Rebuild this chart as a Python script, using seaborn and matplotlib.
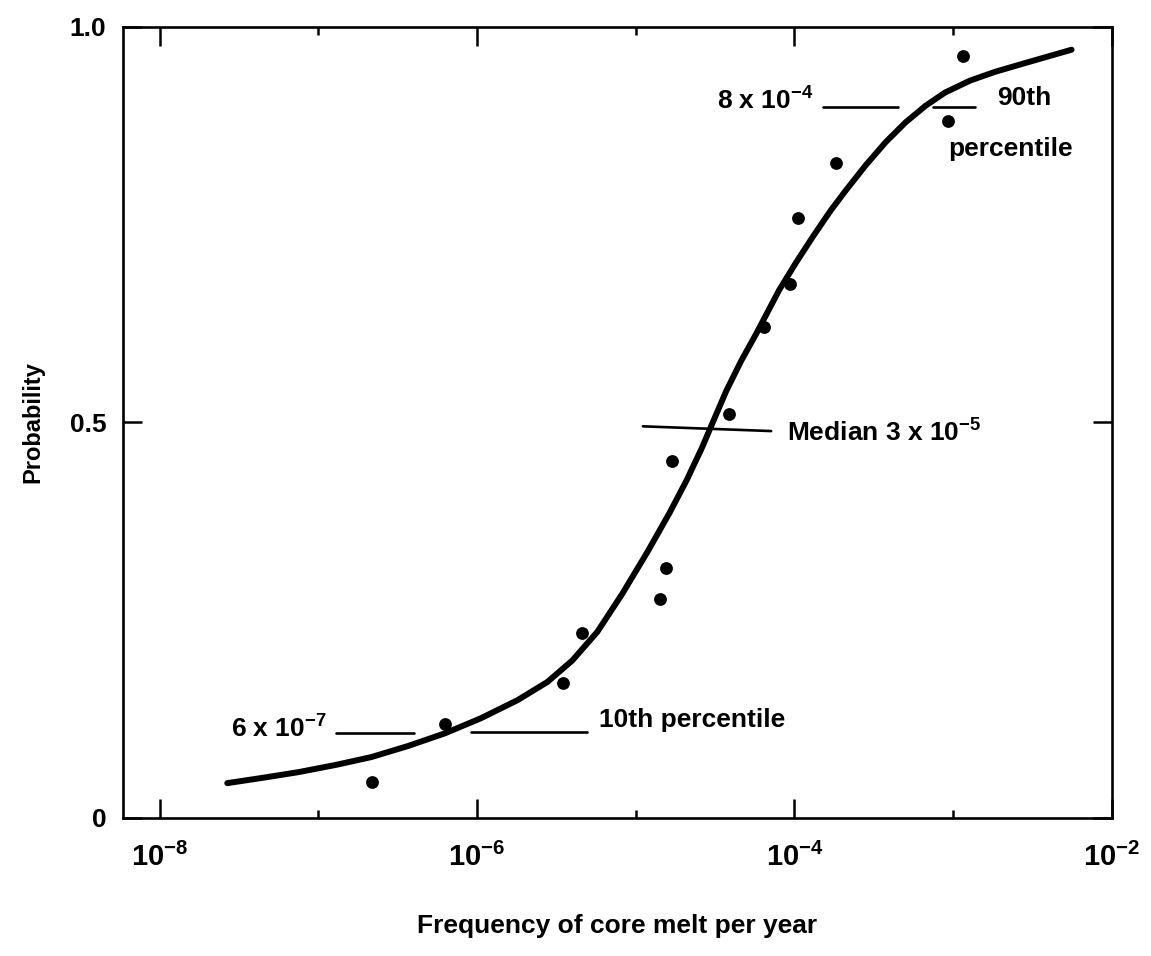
import numpy as np
import pandas as pd
import matplotlib
matplotlib.use("Agg")
import matplotlib.pyplot as plt
from matplotlib.ticker import FixedLocator, FixedFormatter, NullFormatter
import seaborn as sns

# ---- data ----
# fitted curve: log10(frequency) and probability
curve_log10 = [-7.574, -7.342, -7.123, -6.891, -6.665, -6.434, -6.202, -5.976, -5.744,
               -5.556, -5.400, -5.243, -5.086, -4.930, -4.786, -4.679, -4.585, -4.504,
               -4.429, -4.335, -4.241, -4.097, -3.990, -3.883, -3.771, -3.677, -3.551,
               -3.426, -3.301, -3.175, -3.050, -2.893, -2.737, -2.549, -2.254]
curve_prob = [0.044, 0.051, 0.058, 0.067, 0.077, 0.091, 0.107, 0.126, 0.149,
              0.172, 0.199, 0.235, 0.283, 0.335, 0.386, 0.427, 0.467, 0.505,
              0.540, 0.578, 0.612, 0.667, 0.702, 0.735, 0.768, 0.793, 0.825,
              0.854, 0.879, 0.900, 0.917, 0.932, 0.943, 0.954, 0.971]

# individual estimates (dots)
point_log10 = [-6.665, -6.20, -5.46, -5.34, -4.85, -4.81, -4.77, -4.41, -4.19, -4.03,
               -3.98, -3.74, -3.03, -2.94]
point_prob = [0.045, 0.119, 0.170, 0.234, 0.277, 0.316, 0.451, 0.511, 0.621, 0.675,
              0.758, 0.828, 0.881, 0.963]

x_major_ticks = [1e-8, 1e-6, 1e-4, 1e-2]
x_major_labels = [r"$10^{-8}$", r"$10^{-6}$", r"$10^{-4}$", r"$10^{-2}$"]
x_minor_ticks = [1e-7, 1e-5, 1e-3]
y_ticks = [0.0, 0.5, 1.0]
y_tick_labels = ["0", "0.5", "1.0"]

# annotation leaders (log10 frequency / probability)
p10_left_log10 = [-6.89, -6.40]
p10_left_prob = [0.107, 0.107]
p10_right_log10 = [-6.04, -5.31]
p10_right_prob = [0.109, 0.109]
median_log10 = [-4.955, -4.147]
median_prob = [0.495, 0.489]
p90_left_log10 = [-3.82, -3.35]
p90_left_prob = [0.898, 0.898]
p90_right_log10 = [-3.13, -2.86]
p90_right_prob = [0.898, 0.898]

# ---- style ----
sns.set_style("ticks")
plt.rcParams["font.family"] = ["Liberation Sans", "DejaVu Sans"]
plt.rcParams["font.weight"] = "bold"
plt.rcParams["mathtext.fontset"] = "custom"
plt.rcParams["mathtext.rm"] = "Liberation Sans:bold"
plt.rcParams["mathtext.it"] = "Liberation Sans:bold"
plt.rcParams["mathtext.bf"] = "Liberation Sans:bold"
plt.rcParams["mathtext.default"] = "rm"
for key in ["text.color", "axes.labelcolor", "xtick.color", "ytick.color", "axes.edgecolor"]:
    plt.rcParams[key] = "black"

fig = plt.figure(figsize=(11.51, 9.56), dpi=100)
ax = fig.add_axes([0.107, 0.1444, 0.859, 0.8276])

curve_df = pd.DataFrame({"freq": 10.0 ** np.array(curve_log10), "prob": curve_prob})
pts_df = pd.DataFrame({"freq": 10.0 ** np.array(point_log10), "prob": point_prob})

sns.lineplot(data=curve_df, x="freq", y="prob", ax=ax, sort=False, estimator=None,
             color="black", linewidth=4.3, solid_capstyle="round", solid_joinstyle="round")
sns.scatterplot(data=pts_df, x="freq", y="prob", ax=ax, color="black", s=85,
                edgecolor="black", linewidth=0, zorder=3)

ax.set_xscale("log")
ax.set_xlim(10 ** -8.23, 1e-2)
ax.set_ylim(0, 1.0)

# leader lines
for lx, ly in [(p10_left_log10, p10_left_prob), (p10_right_log10, p10_right_prob),
               (median_log10, median_prob), (p90_left_log10, p90_left_prob),
               (p90_right_log10, p90_right_prob)]:
    ax.plot(10.0 ** np.array(lx), ly, color="black", linewidth=1.9)

fs = 19
ax.text(10 ** -6.95, 0.112, r"6 x 10$^{-7}$", ha="right", va="center", fontsize=fs, fontweight="bold")
ax.text(10 ** -5.23, 0.124, "10th percentile", ha="left", va="center", fontsize=fs, fontweight="bold")
ax.text(10 ** -4.05, 0.487, r"Median 3 x 10$^{-5}$", ha="left", va="center", fontsize=fs, fontweight="bold")
ax.text(10 ** -3.88, 0.906, r"8 x 10$^{-4}$", ha="right", va="center", fontsize=fs, fontweight="bold")
ax.text(10 ** -2.72, 0.910, "90th", ha="left", va="center", fontsize=fs, fontweight="bold")
ax.text(10 ** -3.03, 0.845, "percentile", ha="left", va="center", fontsize=fs, fontweight="bold")

# axes, ticks
ax.xaxis.set_major_locator(FixedLocator(x_major_ticks))
ax.xaxis.set_major_formatter(FixedFormatter(x_major_labels))
ax.xaxis.set_minor_locator(FixedLocator(x_minor_ticks))
ax.xaxis.set_minor_formatter(NullFormatter())
ax.set_yticks(y_ticks)
ax.set_yticklabels(y_tick_labels)

ax.tick_params(axis="x", which="major", direction="in", length=14, width=1.8,
               top=True, bottom=True, pad=18, labelsize=21, colors="black")
ax.tick_params(axis="x", which="minor", direction="in", length=6, width=1.8,
               top=True, bottom=True, colors="black")
ax.tick_params(axis="y", which="major", direction="in", length=14, width=1.8,
               left=True, right=True, pad=12, labelsize=19, colors="black")
for lbl in ax.get_xticklabels() + ax.get_yticklabels():
    lbl.set_fontweight("bold")

for sp in ax.spines.values():
    sp.set_visible(True)
    sp.set_linewidth(1.9)
    sp.set_color("black")

ax.set_xlabel("Frequency of core melt per year", fontsize=19, fontweight="bold", labelpad=30)
ax.set_ylabel("Probability", fontsize=17, fontweight="bold", labelpad=18)

fig.savefig("out.png", dpi=100, facecolor="white")
